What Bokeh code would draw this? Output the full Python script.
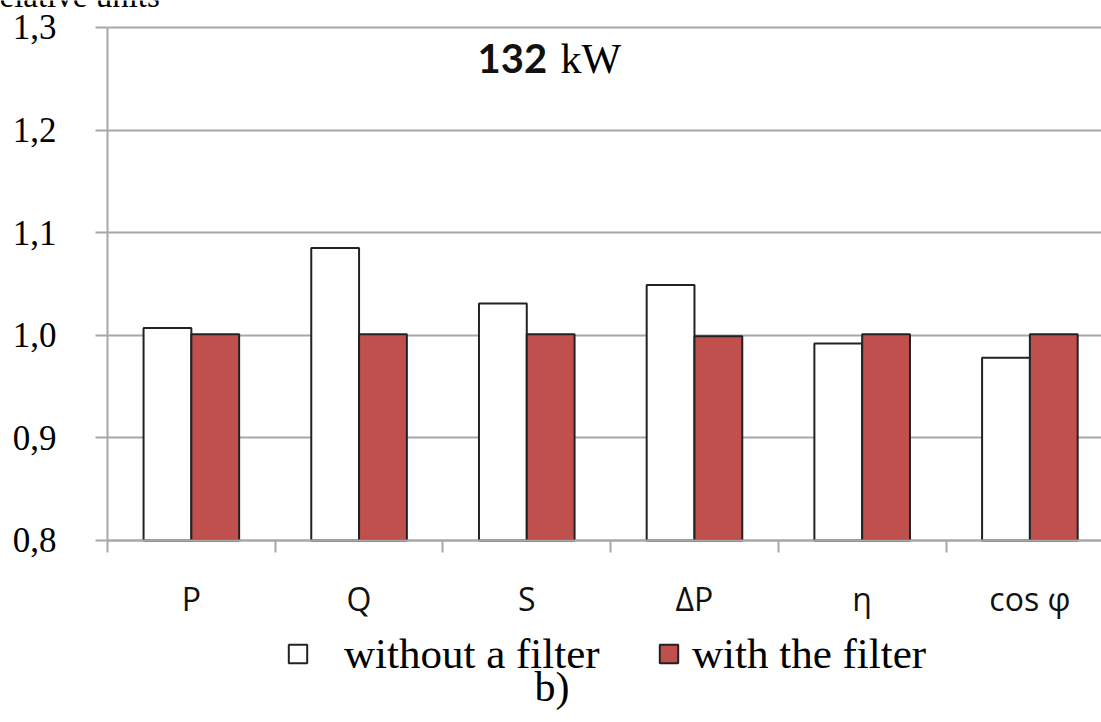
from bokeh.plotting import figure
from bokeh.models import (Range1d, FixedTicker, Legend, LegendItem, Label,
                          ColumnDataSource, LinearAxis, Grid)
from bokeh.transform import dodge
from bokeh.embed import file_html
from bokeh.resources import INLINE

# ---- data ----
categories = ["P", "Q", "S", "ΔP", "η", "cos φ"]
without_filter = [1.007, 1.085, 1.031, 1.049, 0.992, 0.978]
with_filter = [1.001, 1.001, 1.001, 0.999, 1.001, 1.001]
y_ticks = [0.8, 0.9, 1.0, 1.1, 1.2, 1.3]
y_tick_labels = ["0,8", "0,9", "1,0", "1,1", "1,2", "1,3"]
series_names = ["without a filter", "with the filter"]
power_label = "132"
power_unit = "kW"
axis_title = "relative units"
panel_tag = "b)"

n = len(categories)
centers = [i + 0.5 for i in range(n)]
bounds = list(range(n + 1))

src = ColumnDataSource(dict(x=centers, cat=categories,
                            wo=without_filter, wf=with_filter))

GRID = "#a8a8a8"
EDGE = "#222222"
RED = "#C0504D"

# frame covers the whole canvas; axes are pinned with fixed_location
X0, X1 = -0.638, 5.927
Y0, Y1 = 0.6226, 1.3263

p = figure(width=1101, height=722, output_backend="svg", toolbar_location=None,
           x_range=Range1d(X0, X1), y_range=Range1d(Y0, Y1),
           min_border=0, x_axis_type=None, y_axis_type=None)
p.outline_line_color = None
p.background_fill_color = "white"
p.border_fill_color = "white"

p.add_layout(Grid(dimension=1, ticker=FixedTicker(ticks=y_ticks),
                  grid_line_color=GRID, grid_line_width=2,
                  cross_bounds=(0, X1)))

bw = 0.285
r1 = p.vbar(x=dodge("x", -bw / 2, range=p.x_range), top="wo", bottom=y_ticks[0],
            width=bw, source=src, fill_color="white", line_color=EDGE, line_width=2)
r2 = p.vbar(x=dodge("x", bw / 2, range=p.x_range), top="wf", bottom=y_ticks[0],
            width=bw, source=src, fill_color=RED, line_color=EDGE, line_width=2)

# y axis
yax = LinearAxis(ticker=FixedTicker(ticks=y_ticks), fixed_location=0,
                 bounds=(y_ticks[0], y_ticks[-1]))
yax.major_label_overrides = {t: l for t, l in zip(y_ticks, y_tick_labels)}
yax.axis_line_color = GRID
yax.axis_line_width = 2
yax.major_tick_line_color = GRID
yax.major_tick_line_width = 2
yax.major_tick_out = 12
yax.major_tick_in = 0
yax.minor_tick_line_color = None
yax.major_label_standoff = 39
yax.major_label_text_font = "Liberation Serif"
yax.major_label_text_font_size = "35px"
yax.major_label_text_color = "black"
p.add_layout(yax, "left")

# x axis
xax = LinearAxis(ticker=FixedTicker(ticks=centers, minor_ticks=bounds),
                 fixed_location=y_ticks[0], bounds=(0, n))
xax.major_label_overrides = {c: l for c, l in zip(centers, categories)}
xax.axis_line_color = GRID
xax.axis_line_width = 2
xax.major_tick_line_color = None
xax.major_tick_out = 0
xax.major_tick_in = 0
xax.minor_tick_line_color = GRID
xax.minor_tick_line_width = 2
xax.minor_tick_out = 12
xax.minor_tick_in = 0
xax.major_label_standoff = 25
xax.major_label_text_font = "Open Sans"
xax.major_label_text_font_size = "32px"
xax.major_label_text_color = "#111111"
p.add_layout(xax, "below")

common = dict(orientation="horizontal", border_line_color=None,
              background_fill_alpha=0, padding=0, margin=0,
              glyph_width=23, glyph_height=23,
              label_text_font="Liberation Serif", label_text_font_size="43px",
              label_text_color="black")
p.add_layout(Legend(items=[LegendItem(label=series_names[0], renderers=[r1])],
                    location=(286, 44), label_standoff=35, **common))
p.add_layout(Legend(items=[LegendItem(label=series_names[1], renderers=[r2])],
                    location=(657, 44), label_standoff=12, **common))

p.add_layout(Label(x=551.5, y=36, x_units="screen", y_units="screen",
                   text=panel_tag, text_font="Liberation Serif",
                   text_font_size="42px", text_color="black",
                   text_align="center", text_baseline="alphabetic"))
p.add_layout(Label(x=477, y=664, x_units="screen", y_units="screen",
                   text=power_label, text_font="Lato", text_font_style="bold",
                   text_font_size="40px", text_color="#111111",
                   text_baseline="alphabetic"))
p.add_layout(Label(x=560, y=664, x_units="screen", y_units="screen",
                   text=power_unit, text_font="Liberation Serif",
                   text_font_size="42px", text_color="black",
                   text_baseline="alphabetic"))
p.add_layout(Label(x=-12, y=727, x_units="screen", y_units="screen",
                   text=axis_title, text_font="Liberation Serif",
                   text_font_size="33px", text_color="black",
                   text_baseline="alphabetic"))

open("out.html", "w").write(file_html(p, INLINE))
